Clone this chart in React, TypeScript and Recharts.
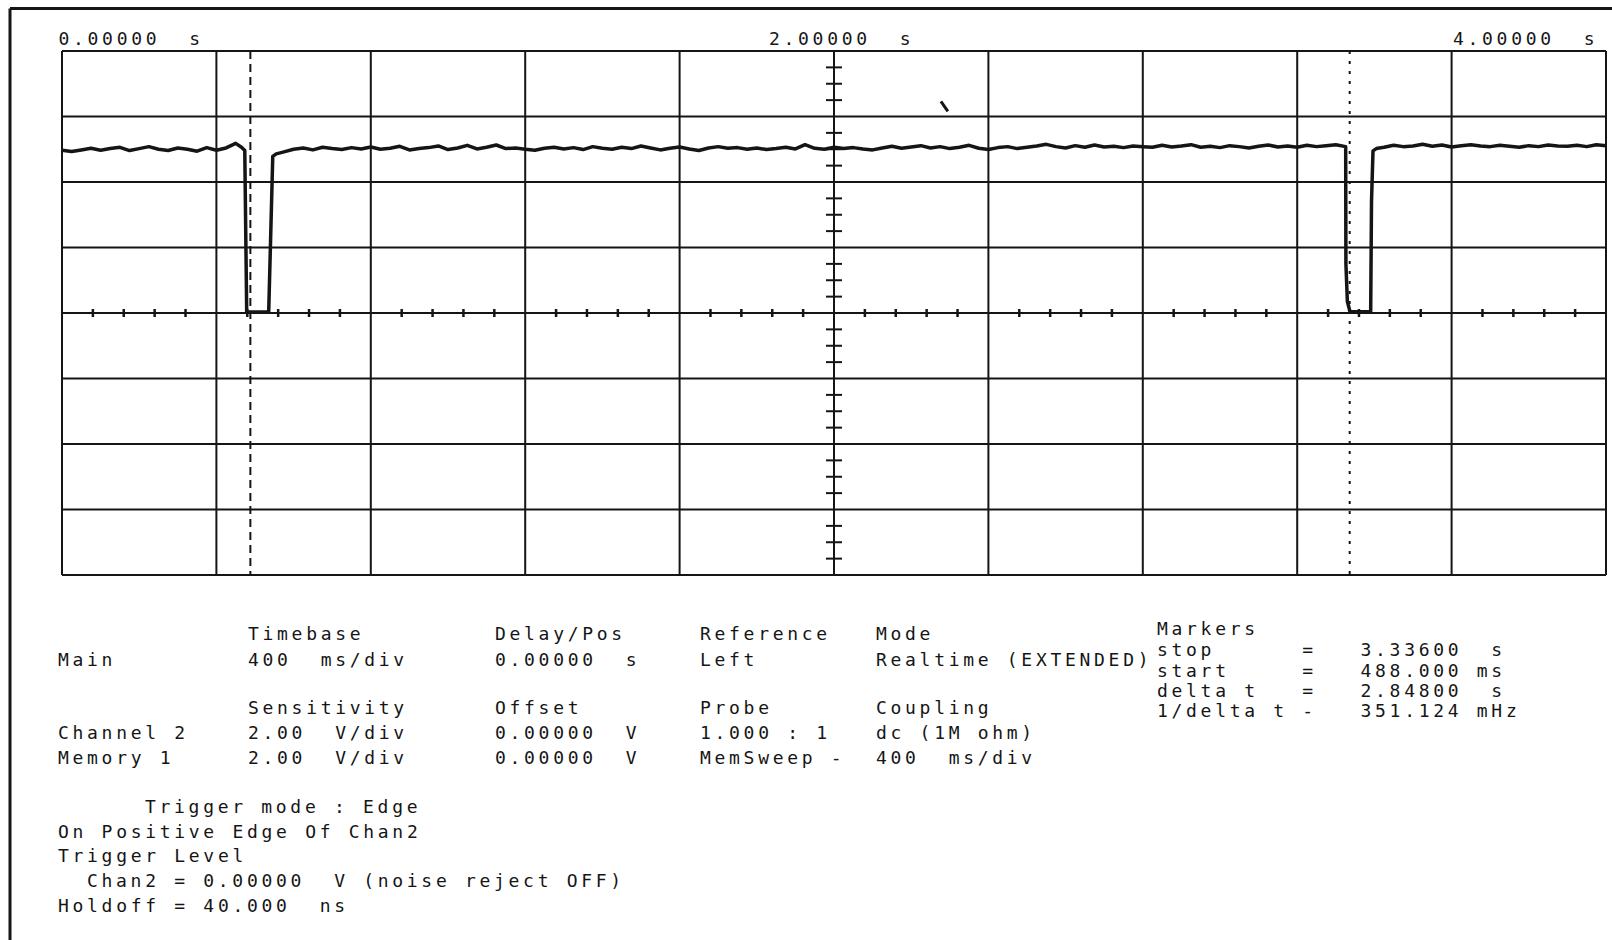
import React from "react";
import { ComposedChart, Line, XAxis, YAxis, ReferenceLine, ReferenceDot } from "recharts";

// graticule: 10 x 400 ms, 8 x 2 V
const timeDivs = [0, 0.4, 0.8, 1.2, 1.6, 2.0, 2.4, 2.8, 3.2, 3.6, 4.0];
const voltDivs = [-8, -6, -4, -2, 0, 2, 4, 6, 8];
const headerTicks = [0, 2, 4];
const headerLabels = ["0.00000  s", "2.00000  s", "4.00000  s"];

const markerStart = 0.488;
const markerStop = 3.336;

// channel 2 trace, [time s, volts]
const highBeforePulse1 = [
  [0, 4.97], [0.025, 4.93], [0.05, 4.98], [0.075, 5.03], [0.1, 4.97],
  [0.125, 5.02], [0.15, 5.06], [0.175, 4.96], [0.2, 5.02], [0.225, 5.08],
  [0.25, 5.0], [0.275, 4.96], [0.3, 5.04], [0.325, 5.0], [0.35, 4.94],
  [0.375, 5.05], [0.4, 4.97], [0.425, 5.04], [0.45, 5.18], [0.465, 5.06],
  [0.4735, 4.96],
];
const pulse1 = [
  [0.4785, 0.03], [0.5355, 0.03], [0.546, 4.78], [0.555, 4.86], [0.575, 4.92],
];
const highBetween = [
  [0.6, 5.0], [0.625, 5.04], [0.65, 4.98], [0.675, 5.06], [0.7, 5.02],
  [0.725, 4.99], [0.75, 5.05], [0.775, 5.01], [0.8, 5.07], [0.825, 5.0],
  [0.85, 5.03], [0.875, 5.09], [0.9, 4.98], [0.925, 5.02], [0.95, 5.05],
  [0.975, 5.1], [1.0, 4.99], [1.025, 5.04], [1.05, 5.12], [1.075, 5.01],
  [1.1, 5.06], [1.125, 5.13], [1.15, 5.02], [1.175, 5.04], [1.2, 5.0],
  [1.225, 4.97], [1.25, 5.03], [1.275, 5.06], [1.3, 5.01], [1.325, 5.05],
  [1.35, 4.99], [1.375, 5.08], [1.4, 5.03], [1.425, 5.0], [1.45, 5.06],
  [1.475, 5.02], [1.5, 5.1], [1.525, 5.04], [1.55, 4.98], [1.575, 5.03],
  [1.6, 5.07], [1.625, 5.01], [1.65, 4.96], [1.675, 5.04], [1.7, 5.08],
  [1.725, 5.03], [1.75, 5.05], [1.775, 5.0], [1.8, 5.04], [1.825, 4.99],
  [1.85, 5.02], [1.875, 5.06], [1.9, 5.01], [1.925, 5.14], [1.95, 5.03],
  [1.975, 5.0], [2.0, 5.06], [2.025, 5.02], [2.05, 5.05], [2.075, 5.01],
  [2.1, 4.98], [2.125, 5.04], [2.15, 5.09], [2.175, 5.03], [2.2, 5.07],
  [2.225, 5.11], [2.25, 5.04], [2.275, 5.08], [2.3, 5.02], [2.325, 5.06],
  [2.35, 5.12], [2.375, 5.03], [2.4, 4.99], [2.425, 5.05], [2.45, 5.08],
  [2.475, 5.02], [2.5, 5.06], [2.525, 5.1], [2.55, 5.15], [2.575, 5.08],
  [2.6, 5.04], [2.625, 5.11], [2.65, 5.06], [2.675, 5.13], [2.7, 5.07],
  [2.725, 5.09], [2.75, 5.05], [2.775, 5.1], [2.8, 5.08], [2.825, 5.06],
  [2.85, 5.12], [2.875, 5.07], [2.9, 5.1], [2.925, 5.14], [2.95, 5.06],
  [2.975, 5.09], [3.0, 5.05], [3.025, 5.11], [3.05, 5.08], [3.075, 5.04],
  [3.1, 5.09], [3.125, 5.13], [3.15, 5.07], [3.175, 5.1], [3.2, 5.06],
  [3.225, 5.12], [3.25, 5.08], [3.275, 5.11], [3.3, 5.14], [3.3256, 5.08],
];
const pulse2 = [
  [3.3262, 1.5], [3.33, 0.35], [3.3368, 0.04], [3.3904, 0.04], [3.3925, 3.4],
  [3.3964, 4.95], [3.405, 5.02],
];
const highAfter = [
  [3.425, 5.06], [3.45, 5.12], [3.475, 5.08], [3.5, 5.1], [3.525, 5.15],
  [3.55, 5.09], [3.575, 5.13], [3.6, 5.07], [3.625, 5.11], [3.65, 5.14],
  [3.675, 5.1], [3.7, 5.08], [3.725, 5.12], [3.75, 5.09], [3.775, 5.06],
  [3.8, 5.11], [3.825, 5.08], [3.85, 5.13], [3.875, 5.1], [3.9, 5.09],
  [3.925, 5.12], [3.95, 5.08], [3.975, 5.14], [4.0, 5.11],
];

// pen mark on the printout
const penMark = [[2.277, 6.46], [2.295, 6.16]];

const trace = [...highBeforePulse1, ...pulse1, ...highBetween, ...pulse2, ...highAfter].map(
  ([t, v]) => ({ t, v })
);

// sub-division ticks on the centre lines
const timeMinor: number[] = [];
timeDivs.slice(0, -1).forEach((d) => [1, 2, 3, 4].forEach((k) => timeMinor.push(d + k * 0.08)));
const voltMinor: number[] = [];
voltDivs.slice(0, -1).forEach((d) => [1, 2, 3].forEach((k) => voltMinor.push(d + k * 0.5)));

const INK = "#151515";
const FONT = "'DejaVu Sans Mono', monospace";
const FS = 18;
const LS = 3.7;

const headerOffset: Record<number, number> = { 0: -3.5, 2: -65, 4: -153 };

function HeaderTick(props: any) {
  const { x, y, payload } = props;
  const i = headerTicks.indexOf(payload.value);
  return (
    <text
      x={x + headerOffset[payload.value]}
      y={y}
      fill={INK}
      fontFamily={FONT}
      fontSize={FS}
      letterSpacing={LS}
      style={{ whiteSpace: "pre" }}
    >
      {headerLabels[i]}
    </text>
  );
}

const VTickMark = (props: any) => (
  <line x1={props.cx} x2={props.cx} y1={props.cy - 4} y2={props.cy + 4} stroke={INK} strokeWidth={2.5} />
);
const HTickMark = (props: any) => (
  <line x1={props.cx - 8} x2={props.cx + 8} y1={props.cy} y2={props.cy} stroke={INK} strokeWidth={2} />
);

function T({ x, y, children }: { x: number; y: number; children: string }) {
  return (
    <text x={x} y={y} fill={INK} fontFamily={FONT} fontSize={FS} letterSpacing={LS} style={{ whiteSpace: "pre" }}>
      {children}
    </text>
  );
}

export default function App() {
  return (
    <div style={{ position: "absolute", left: 0, top: 0, width: 1612, height: 940, background: "#fff" }}>
      <ComposedChart
        width={1612}
        height={940}
        data={trace}
        margin={{ top: 21, right: 6, bottom: 365, left: 62 }}
      >
        <XAxis
          dataKey="t"
          type="number"
          orientation="top"
          domain={[0, 4]}
          ticks={headerTicks}
          interval={0}
          height={30}
          axisLine={false}
          tickLine={false}
          tickSize={0}
          tickMargin={6}
          tick={<HeaderTick />}
        />
        <YAxis dataKey="v" type="number" domain={[-8, 8]} hide />

        {timeDivs.map((t) => (
          <ReferenceLine key={"vx" + t} x={t} stroke={INK} strokeWidth={2} />
        ))}
        {voltDivs.map((v) => (
          <ReferenceLine key={"hy" + v} y={v} stroke={INK} strokeWidth={2} />
        ))}
        {timeMinor.map((t) => (
          <ReferenceDot key={"tm" + t} x={t} y={0} r={4} shape={VTickMark} />
        ))}
        {voltMinor.map((v) => (
          <ReferenceDot key={"vm" + v} x={2} y={v} r={4} shape={HTickMark} />
        ))}

        <ReferenceLine x={markerStart} stroke={INK} strokeWidth={2} strokeDasharray="8 5" />
        <ReferenceLine x={markerStop} stroke={INK} strokeWidth={2} strokeDasharray="3 7" />
        <ReferenceLine
          segment={penMark.map(([t, v]) => ({ x: t, y: v }))}
          stroke={INK}
          strokeWidth={3}
        />

        <Line
          type="linear"
          dataKey="v"
          stroke={INK}
          strokeWidth={3.5}
          strokeLinejoin="round"
          dot={false}
          isAnimationActive={false}
        />
      </ComposedChart>

      <svg
        width={1612}
        height={940}
        style={{ position: "absolute", left: 0, top: 0, pointerEvents: "none" }}
      >
        <line x1={10} y1={8.5} x2={1612} y2={8.5} stroke={INK} strokeWidth={3} />
        <line x1={10} y1={8.5} x2={10} y2={940} stroke={INK} strokeWidth={3} />

        <T x={248} y={640}>Timebase</T>
        <T x={495} y={640}>Delay/Pos</T>
        <T x={700} y={640}>Reference</T>
        <T x={876} y={640}>Mode</T>

        <T x={58} y={666}>Main</T>
        <T x={248} y={666}>400  ms/div</T>
        <T x={495} y={666}>0.00000  s</T>
        <T x={700} y={666}>Left</T>
        <T x={876} y={666}>Realtime (EXTENDED)</T>

        <T x={248} y={714}>Sensitivity</T>
        <T x={495} y={714}>Offset</T>
        <T x={700} y={714}>Probe</T>
        <T x={876} y={714}>Coupling</T>

        <T x={58} y={739}>Channel 2</T>
        <T x={248} y={739}>2.00  V/div</T>
        <T x={495} y={739}>0.00000  V</T>
        <T x={700} y={739}>1.000 : 1</T>
        <T x={876} y={739}>dc (1M ohm)</T>

        <T x={58} y={764}>Memory 1</T>
        <T x={248} y={764}>2.00  V/div</T>
        <T x={495} y={764}>0.00000  V</T>
        <T x={700} y={764}>MemSweep -</T>
        <T x={876} y={764}>400  ms/div</T>

        <T x={1157} y={635}>Markers</T>
        <T x={1157} y={656}>stop      =   3.33600  s</T>
        <T x={1157} y={677}>start     =   488.000 ms</T>
        <T x={1157} y={697}>delta t   =   2.84800  s</T>
        <T x={1157} y={717}>1/delta t -   351.124 mHz</T>

        <T x={145} y={813}>Trigger mode : Edge</T>
        <T x={58} y={838}>On Positive Edge Of Chan2</T>
        <T x={58} y={862}>Trigger Level</T>
        <T x={87} y={887}>Chan2 = 0.00000  V (noise reject OFF)</T>
        <T x={58} y={912}>Holdoff = 40.000  ns</T>
      </svg>
    </div>
  );
}
